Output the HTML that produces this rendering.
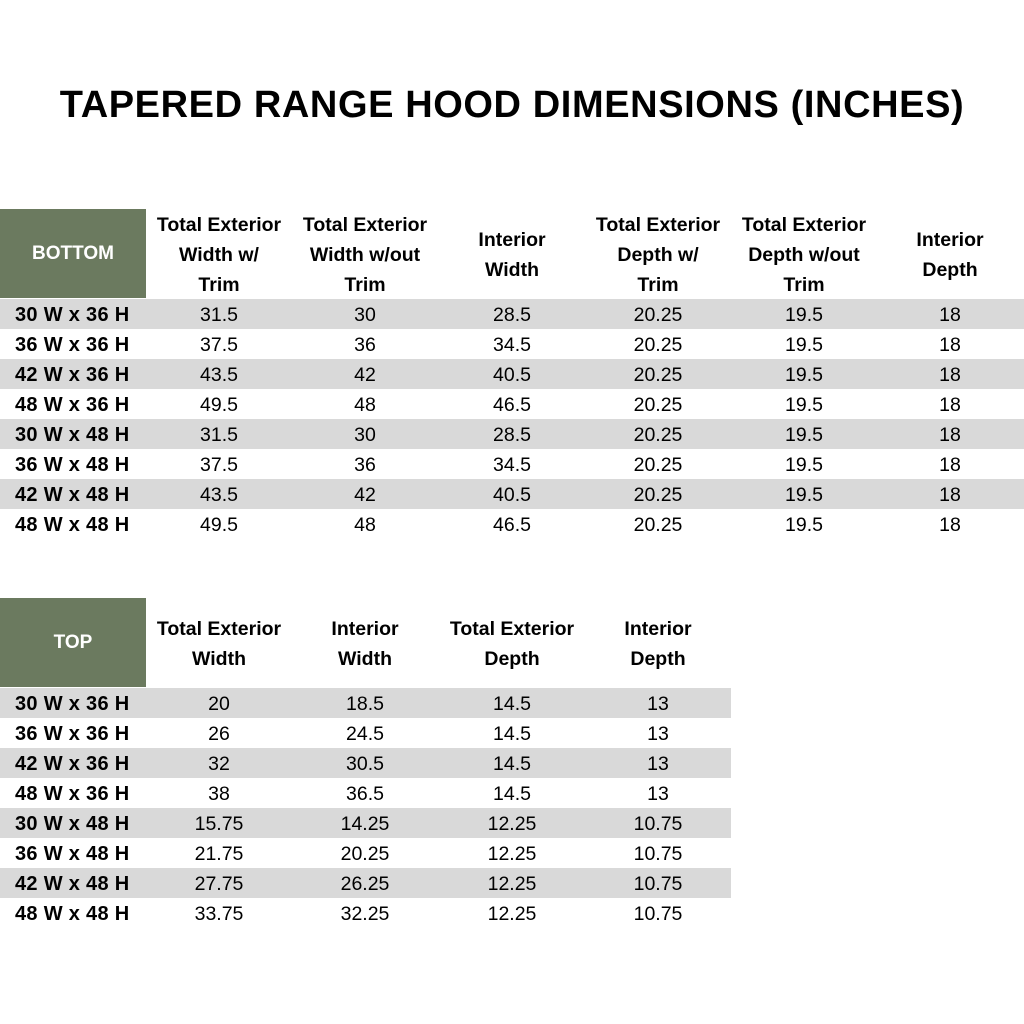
<!DOCTYPE html>
<html><head><meta charset="utf-8"><style>
body{margin:0;width:1024px;height:1024px;background:#fff;position:relative;overflow:hidden;font-family:"Liberation Sans",sans-serif;color:#000}
.t{position:absolute;left:0;width:1024px;top:84px;text-align:center;font-weight:bold;font-size:38px;letter-spacing:0.6px}
.hb{position:absolute;left:0;width:146px;background:#6b7a5f;color:#fff;font-weight:bold;font-size:19px;display:flex;align-items:center;justify-content:center}
.h{position:absolute;width:146px;text-align:center;font-weight:bold;font-size:19.5px;line-height:30px;display:flex;align-items:center;justify-content:center;padding-top:2px;box-sizing:border-box}
.r{position:absolute;left:0;height:30px;font-size:19.5px;line-height:32px}
.r.g{background:#d9d9d9}
.r span{position:absolute;width:146px;text-align:center;top:0}
.r span.l{left:0;width:146px;font-weight:bold;text-align:left;padding-left:15px;box-sizing:border-box;white-space:nowrap;font-size:20px;letter-spacing:0.3px}
</style></head><body>
<div class="t">TAPERED RANGE HOOD DIMENSIONS (INCHES)</div>

<div class="hb" style="top:209px;height:89px">BOTTOM</div>
<div class="h" style="left:146px;top:209px;height:90px">Total Exterior<br>Width w/<br>Trim</div>
<div class="h" style="left:292px;top:209px;height:90px">Total Exterior<br>Width w/out<br>Trim</div>
<div class="h" style="left:439px;top:209px;height:90px">Interior<br>Width</div>
<div class="h" style="left:585px;top:209px;height:90px">Total Exterior<br>Depth w/<br>Trim</div>
<div class="h" style="left:731px;top:209px;height:90px">Total Exterior<br>Depth w/out<br>Trim</div>
<div class="h" style="left:877px;top:209px;height:90px">Interior<br>Depth</div>

<div class="hb" style="top:598px;height:89px">TOP</div>
<div class="h" style="left:146px;top:598px;height:90px">Total Exterior<br>Width</div>
<div class="h" style="left:292px;top:598px;height:90px">Interior<br>Width</div>
<div class="h" style="left:439px;top:598px;height:90px">Total Exterior<br>Depth</div>
<div class="h" style="left:585px;top:598px;height:90px">Interior<br>Depth</div>

<div class="r g" style="top:299px;width:1024px"><span class="l">30 W x 36 H</span><span style="left:146px">31.5</span><span style="left:292px">30</span><span style="left:439px">28.5</span><span style="left:585px">20.25</span><span style="left:731px">19.5</span><span style="left:877px">18</span></div>
<div class="r" style="top:329px;width:1024px"><span class="l">36 W x 36 H</span><span style="left:146px">37.5</span><span style="left:292px">36</span><span style="left:439px">34.5</span><span style="left:585px">20.25</span><span style="left:731px">19.5</span><span style="left:877px">18</span></div>
<div class="r g" style="top:359px;width:1024px"><span class="l">42 W x 36 H</span><span style="left:146px">43.5</span><span style="left:292px">42</span><span style="left:439px">40.5</span><span style="left:585px">20.25</span><span style="left:731px">19.5</span><span style="left:877px">18</span></div>
<div class="r" style="top:389px;width:1024px"><span class="l">48 W x 36 H</span><span style="left:146px">49.5</span><span style="left:292px">48</span><span style="left:439px">46.5</span><span style="left:585px">20.25</span><span style="left:731px">19.5</span><span style="left:877px">18</span></div>
<div class="r g" style="top:419px;width:1024px"><span class="l">30 W x 48 H</span><span style="left:146px">31.5</span><span style="left:292px">30</span><span style="left:439px">28.5</span><span style="left:585px">20.25</span><span style="left:731px">19.5</span><span style="left:877px">18</span></div>
<div class="r" style="top:449px;width:1024px"><span class="l">36 W x 48 H</span><span style="left:146px">37.5</span><span style="left:292px">36</span><span style="left:439px">34.5</span><span style="left:585px">20.25</span><span style="left:731px">19.5</span><span style="left:877px">18</span></div>
<div class="r g" style="top:479px;width:1024px"><span class="l">42 W x 48 H</span><span style="left:146px">43.5</span><span style="left:292px">42</span><span style="left:439px">40.5</span><span style="left:585px">20.25</span><span style="left:731px">19.5</span><span style="left:877px">18</span></div>
<div class="r" style="top:509px;width:1024px"><span class="l">48 W x 48 H</span><span style="left:146px">49.5</span><span style="left:292px">48</span><span style="left:439px">46.5</span><span style="left:585px">20.25</span><span style="left:731px">19.5</span><span style="left:877px">18</span></div>

<div class="r g" style="top:688px;width:731px"><span class="l">30 W x 36 H</span><span style="left:146px">20</span><span style="left:292px">18.5</span><span style="left:439px">14.5</span><span style="left:585px">13</span></div>
<div class="r" style="top:718px;width:731px"><span class="l">36 W x 36 H</span><span style="left:146px">26</span><span style="left:292px">24.5</span><span style="left:439px">14.5</span><span style="left:585px">13</span></div>
<div class="r g" style="top:748px;width:731px"><span class="l">42 W x 36 H</span><span style="left:146px">32</span><span style="left:292px">30.5</span><span style="left:439px">14.5</span><span style="left:585px">13</span></div>
<div class="r" style="top:778px;width:731px"><span class="l">48 W x 36 H</span><span style="left:146px">38</span><span style="left:292px">36.5</span><span style="left:439px">14.5</span><span style="left:585px">13</span></div>
<div class="r g" style="top:808px;width:731px"><span class="l">30 W x 48 H</span><span style="left:146px">15.75</span><span style="left:292px">14.25</span><span style="left:439px">12.25</span><span style="left:585px">10.75</span></div>
<div class="r" style="top:838px;width:731px"><span class="l">36 W x 48 H</span><span style="left:146px">21.75</span><span style="left:292px">20.25</span><span style="left:439px">12.25</span><span style="left:585px">10.75</span></div>
<div class="r g" style="top:868px;width:731px"><span class="l">42 W x 48 H</span><span style="left:146px">27.75</span><span style="left:292px">26.25</span><span style="left:439px">12.25</span><span style="left:585px">10.75</span></div>
<div class="r" style="top:898px;width:731px"><span class="l">48 W x 48 H</span><span style="left:146px">33.75</span><span style="left:292px">32.25</span><span style="left:439px">12.25</span><span style="left:585px">10.75</span></div>
</body></html>
